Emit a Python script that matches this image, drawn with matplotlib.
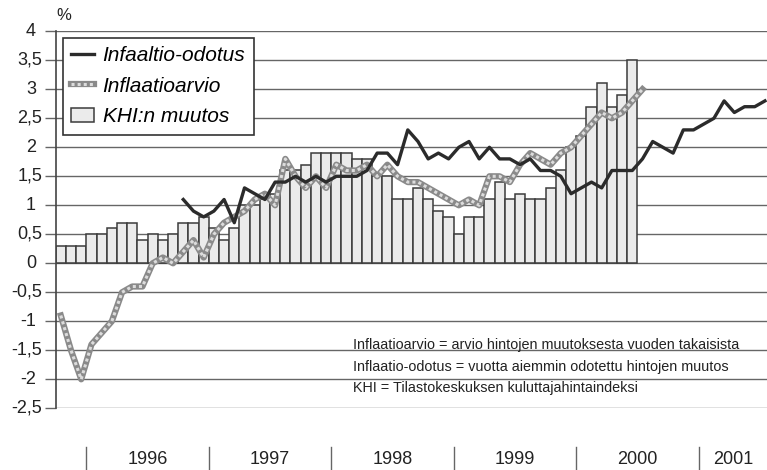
import matplotlib
matplotlib.use('Agg')
import matplotlib.pyplot as plt
from matplotlib import font_manager
from matplotlib.lines import Line2D
from matplotlib.patches import Patch
from matplotlib.transforms import blended_transform_factory
import numpy as np

# monthly series, first month = October 1995
start_year, start_month = 1995, 10

# KHI:n muutos (bars), Oct 1995 - Jun 2000
khi = [0.3, 0.3, 0.3, 0.5, 0.5, 0.6, 0.7, 0.7, 0.4, 0.5, 0.4, 0.5,
       0.7, 0.7, 0.8, 0.6, 0.4, 0.6, 1.0, 1.0, 1.1, 1.2, 1.6, 1.6,
       1.7, 1.9, 1.9, 1.9, 1.9, 1.8, 1.8, 1.5, 1.5, 1.1, 1.1, 1.3,
       1.1, 0.9, 0.8, 0.5, 0.8, 0.8, 1.1, 1.4, 1.1, 1.2, 1.1, 1.1,
       1.3, 1.6, 2.0, 2.2, 2.7, 3.1, 2.7, 2.9, 3.5]

# Inflaatioarvio (grey line), Oct 1995 - Jul 2000
arvio = [-0.9, -1.5, -2.0, -1.4, -1.2, -1.0, -0.5, -0.4, -0.4, 0.0, 0.1, 0.0,
         0.2, 0.4, 0.1, 0.5, 0.7, 0.8, 0.9, 1.1, 1.2, 1.0, 1.8, 1.5,
         1.3, 1.5, 1.3, 1.7, 1.6, 1.6, 1.7, 1.5, 1.7, 1.5, 1.4, 1.4,
         1.3, 1.2, 1.1, 1.0, 1.1, 1.0, 1.5, 1.5, 1.4, 1.7, 1.9, 1.8,
         1.7, 1.9, 2.0, 2.2, 2.4, 2.6, 2.5, 2.6, 2.8, 3.0]

# Infaaltio-odotus (black line), Oct 1996 - Jul 2001
odotus_start = 12
odotus = [1.1, 0.9, 0.8, 0.9, 1.1, 0.7, 1.3, 1.2, 1.1, 1.4, 1.4, 1.5,
          1.4, 1.5, 1.4, 1.5, 1.5, 1.5, 1.6, 1.9, 1.9, 1.7, 2.3, 2.1,
          1.8, 1.9, 1.8, 2.0, 2.1, 1.8, 2.0, 1.8, 1.8, 1.7, 1.8, 1.6,
          1.6, 1.5, 1.2, 1.3, 1.4, 1.3, 1.6, 1.6, 1.6, 1.8, 2.1, 2.0,
          1.9, 2.3, 2.3, 2.4, 2.5, 2.8, 2.6, 2.7, 2.7, 2.8]

years = [1996, 1997, 1998, 1999, 2000, 2001]
legend_labels = ['Infaaltio-odotus', 'Inflaatioarvio', 'KHI:n muutos']
notes = ['Inflaatioarvio = arvio hintojen muutoksesta vuoden takaisista',
         'Inflaatio-odotus = vuotta aiemmin odotettu hintojen muutos',
         'KHI = Tilastokeskuksen kuluttajahintaindeksi']

names = {f.name for f in font_manager.fontManager.ttflist}
FONT = 'Liberation Sans Narrow' if 'Liberation Sans Narrow' in names else 'Liberation Sans'

BAR_FACE, BAR_EDGE = '#ebebeb', '#3c3c3c'
GREY_DARK, GREY_LIGHT = '#8a8a8a', '#dcdcdc'
BLACK = '#2b2b2b'

W, H = 767, 470
fig = plt.figure(figsize=(W / 100, H / 100), dpi=100)
left_px, right_px, top_px, bottom_px = 55.7, 767, 31.3, 408.3
ax = fig.add_axes([left_px / W, 1 - bottom_px / H, (right_px - left_px) / W, (bottom_px - top_px) / H])

ax.bar(np.arange(len(khi)), khi, width=1.0, color=BAR_FACE, edgecolor=BAR_EDGE,
       linewidth=1.1, zorder=2)

xa = np.arange(len(arvio))
ax.plot(xa, arvio, color=GREY_DARK, lw=4.5, solid_joinstyle='round', zorder=3)
ax.plot(xa, arvio, color=GREY_LIGHT, lw=2.2, ls=(0, (1, 1)), zorder=3.1)

xo = np.arange(odotus_start, odotus_start + len(odotus))
ax.plot(xo, odotus, color=BLACK, lw=2.4, zorder=4)

xmax = 69.2
ax.set_xlim(-0.5, xmax)
ax.set_ylim(-2.5, 4)
yticks = np.arange(-2.5, 4.01, 0.5)
ax.set_yticks(yticks)
ax.set_yticklabels([])
ax.set_xticks([])
ax.tick_params(axis='y', length=8, color='#666', width=1)
ax.grid(axis='y', color='#666', lw=1)
ax.set_axisbelow(True)
for s in ['top', 'right', 'bottom']:
    ax.spines[s].set_visible(False)
ax.spines['left'].set_color('#444')
ax.spines['left'].set_linewidth(1.2)

# y labels, aligned on the decimal comma like the original
ytrans = blended_transform_factory(fig.transFigure, ax.transData)
for v in yticks:
    lab = f'{v:g}'.replace('.', ',')
    xr = 36 if float(v).is_integer() else 42.5
    ax.text(xr / W, v, lab, transform=ytrans, ha='right', va='center',
            fontsize=13, family=FONT, color='#222', clip_on=False)

fig.text(64 / W, 1 - 16 / H, '%', ha='center', va='center', fontsize=12,
         family=FONT, color='#222')

# year axis below
xtrans = blended_transform_factory(ax.transData, fig.transFigure)
bounds = [(y - start_year) * 12 - (start_month - 1) - 0.5 for y in years]
for b in bounds:
    ax.plot([b, b], [1 - 447 / H, 1 - 471 / H], transform=xtrans, color='#666',
            lw=1, clip_on=False)
ends = bounds[1:] + [xmax]
for y, b, e in zip(years, bounds, ends):
    ax.text((b + e) / 2, 1 - 459 / H, str(y), transform=xtrans, ha='center',
            va='center', fontsize=13, family=FONT, color='#222')

# notes
for txt, yv in zip(notes, [-1.40, -1.78, -2.15]):
    ax.text(28.6, yv, txt, ha='left', va='center', fontsize=10.4, family=FONT,
            color='#222', zorder=5)

handles = [Line2D([], [], color=BLACK, lw=2.4),
           (Line2D([], [], color=GREY_DARK, lw=4.5),
            Line2D([], [], color=GREY_LIGHT, lw=2.2, ls=(0, (1, 1)))),
           Patch(facecolor=BAR_FACE, edgecolor=BAR_EDGE, lw=1.1)]
leg = ax.legend(handles, legend_labels, loc='upper left',
                bbox_to_anchor=((63 - left_px) / (right_px - left_px), 1 - (38 - top_px) / (bottom_px - top_px)),
                frameon=True, fancybox=False, edgecolor='#333', framealpha=1,
                prop=dict(family=FONT, style='italic', size=15),
                handlelength=1.1, handletextpad=0.4, borderpad=0.4,
                labelspacing=0.55, borderaxespad=0)
leg.get_frame().set_linewidth(1.2)
leg.set_zorder(6)

fig.savefig('out.png', dpi=100)
